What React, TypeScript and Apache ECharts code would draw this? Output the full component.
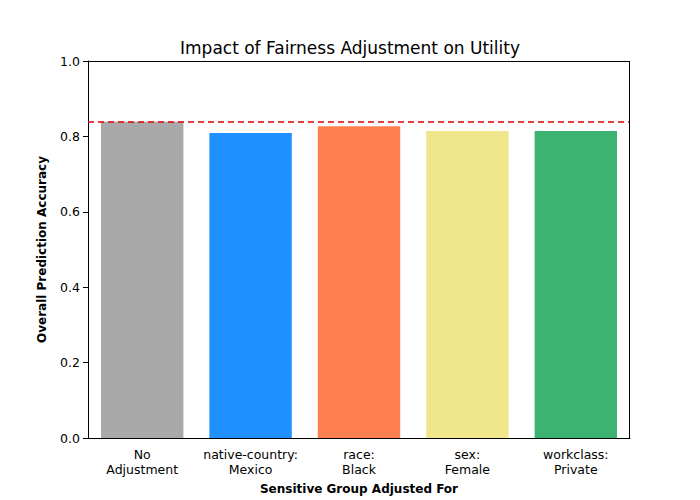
import React, { useEffect, useRef } from "react";
import * as echarts from "echarts";

const categories = ["No\nAdjustment", "native-country:\nMexico", "race:\nBlack", "sex:\nFemale", "workclass:\nPrivate"];
const values = [0.839, 0.809, 0.827, 0.814, 0.814];
const colors = ["#a9a9a9", "#1e90ff", "#ff7f50", "#f0e68c", "#3cb371"];
const baseline = 0.8408;

export default function App() {
  const ref = useRef<HTMLDivElement>(null);
  useEffect(() => {
    const chart = echarts.init(ref.current!, null, { renderer: "svg" });
    const font = "DejaVu Sans";
    chart.setOption({
      animation: false,
      textStyle: { fontFamily: font },
      title: {
        text: "Impact of Fairness Adjustment on Utility",
        left: "center",
        top: 34,
        textStyle: { fontFamily: font, fontSize: 17, fontWeight: "normal", color: "#000" },
      },
      grid: { left: 88, right: 70, top: 61, bottom: 62 },
      xAxis: {
        type: "category",
        data: categories,
        name: "Sensitive Group Adjusted For",
        nameLocation: "middle",
        nameGap: 45,
        nameTextStyle: { fontFamily: font, fontSize: 12, fontWeight: "bold", color: "#000" },
        axisLine: { lineStyle: { color: "#000" } },
        axisTick: { alignWithLabel: true, lineStyle: { color: "#000" } },
        axisLabel: { interval: 0, color: "#000", fontSize: 12.5, fontFamily: font, lineHeight: 15, margin: 9 },
      },
      yAxis: {
        type: "value",
        min: 0,
        max: 1,
        interval: 0.2,
        name: "Overall Prediction Accuracy",
        nameLocation: "middle",
        nameGap: 40,
        nameTextStyle: { fontFamily: font, fontSize: 12, fontWeight: "bold", color: "#000" },
        axisLine: { show: true, lineStyle: { color: "#000" } },
        axisTick: { show: true, lineStyle: { color: "#000" } },
        splitLine: { show: false },
        axisLabel: { color: "#000", fontSize: 12.5, fontFamily: font, formatter: (v: number) => v.toFixed(1) },
      },
      series: [
        {
          type: "bar",
          barCategoryGap: "24%",
          data: values.map((v, i) => ({ value: v, itemStyle: { color: colors[i] } })),
          markLine: {
            symbol: "none",
            silent: true,
            label: { show: false },
            lineStyle: { color: "#e00000", type: [6, 4], width: 1.5 },
            data: [{ yAxis: baseline }],
          },
        },
      ],
    });
    return () => chart.dispose();
  }, []);
  return (
    <div style={{ position: "fixed", left: 0, top: 0, width: 700, height: 500, background: "#fff" }}>
      <div ref={ref} style={{ width: 700, height: 500 }} />
      <div style={{ position: "absolute", left: 88, top: 61, width: 542, height: 377, borderTop: "1px solid #000", borderRight: "1px solid #000", boxSizing: "border-box", pointerEvents: "none" }} />
    </div>
  );
}
